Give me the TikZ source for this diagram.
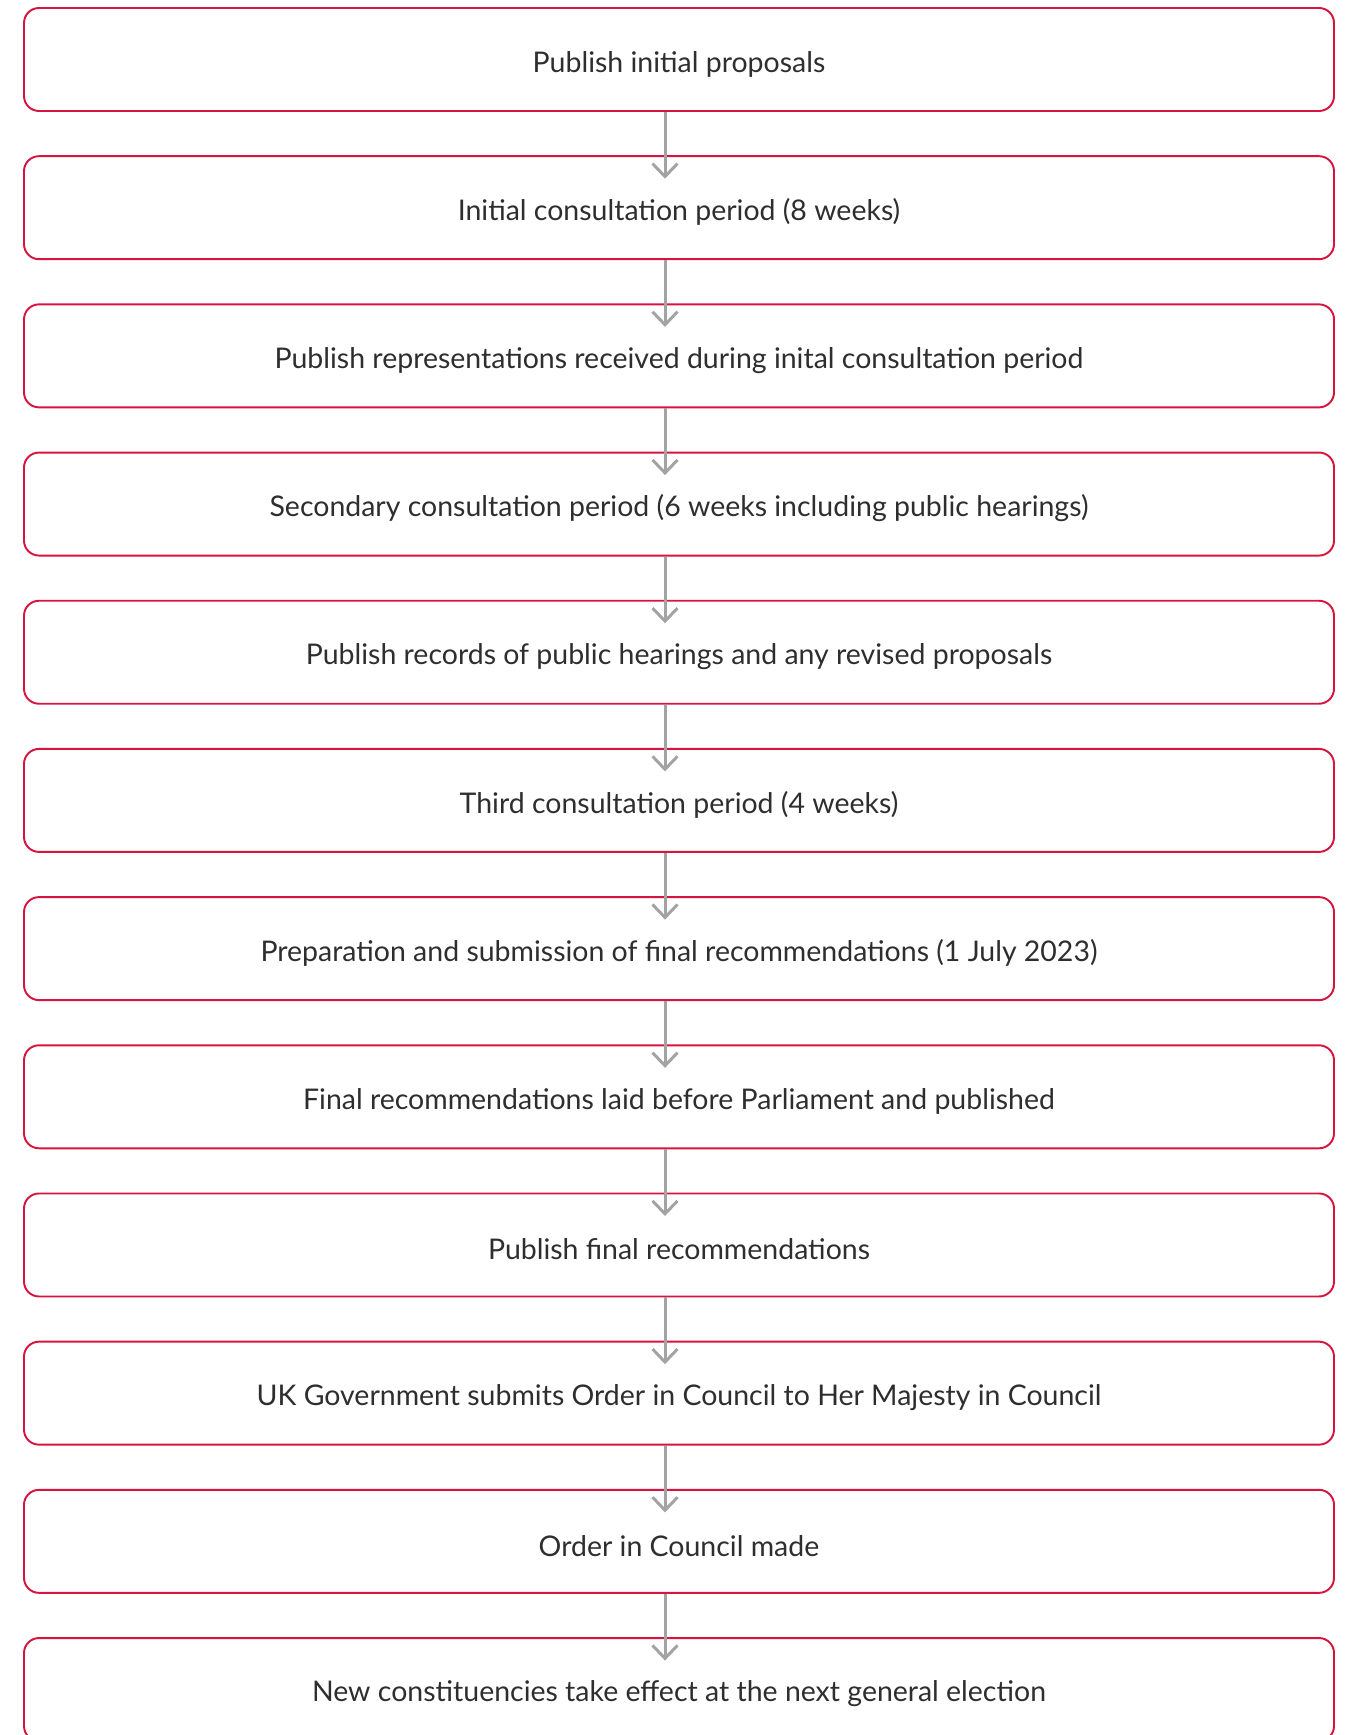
\documentclass[tikz,border=0pt]{standalone}
\usepackage{fontspec}
\setmainfont{Lato}
\usetikzlibrary{positioning,arrows.meta}
\definecolor{boxred}{HTML}{D7133F}
\definecolor{arrgrey}{HTML}{A3A3A3}
\begin{document}
\begin{tikzpicture}[
  stage/.style={
    draw=boxred, line width=1.1pt, rounded corners=3mm,
    minimum width=26.2cm, minimum height=2.06cm,
    inner sep=0pt,
    font=\fontsize{16.2}{19}\selectfont, text=black!82, align=center
  },
  flow/.style={draw=arrgrey, line width=1.7pt,
    -{Straight Barb[length=2.6mm, width=5mm, line width=1.7pt]}}
]
\useasboundingbox (0,0) rectangle (26.9,-34.7);
\def\ygap{0.865cm} % gap between boxes

% --- Stages ---
\foreach \t [count=\i] in {
  {Publish initial proposals},
  {Initial consultation period (8 weeks)},
  {Publish representations received during inital consultation period},
  {Secondary consultation period (6 weeks including public hearings)},
  {Publish records of public hearings and any revised proposals},
  {Third consultation period (4 weeks)},
  {Preparation and submission of final recommendations (1 July 2023)},
  {Final recommendations laid before Parliament and published},
  {Publish final recommendations},
  {UK Government submits Order in Council to Her Majesty in Council},
  {Order in Council made},
  {New constituencies take effect at the next general election}} {
  \ifnum\i=1
    \node[stage] (s\i) at (13.58,-1.19) {\raisebox{-0.9mm}[\height][\depth]{\t}};
  \else
    \node[stage, below=\ygap of s\the\numexpr\i-1\relax] (s\i)
      {\raisebox{-0.9mm}[\height][\depth]{\t}};
  \fi
}

% --- Arrows ---
\foreach \i [evaluate=\i as \j using int(\i+1)] in {1,...,11} {
  \draw[flow] ([xshift=-2.8mm]s\i.south) -- ([xshift=-2.8mm, yshift=-4.7mm]s\j.north);
}
\end{tikzpicture}
\end{document}
